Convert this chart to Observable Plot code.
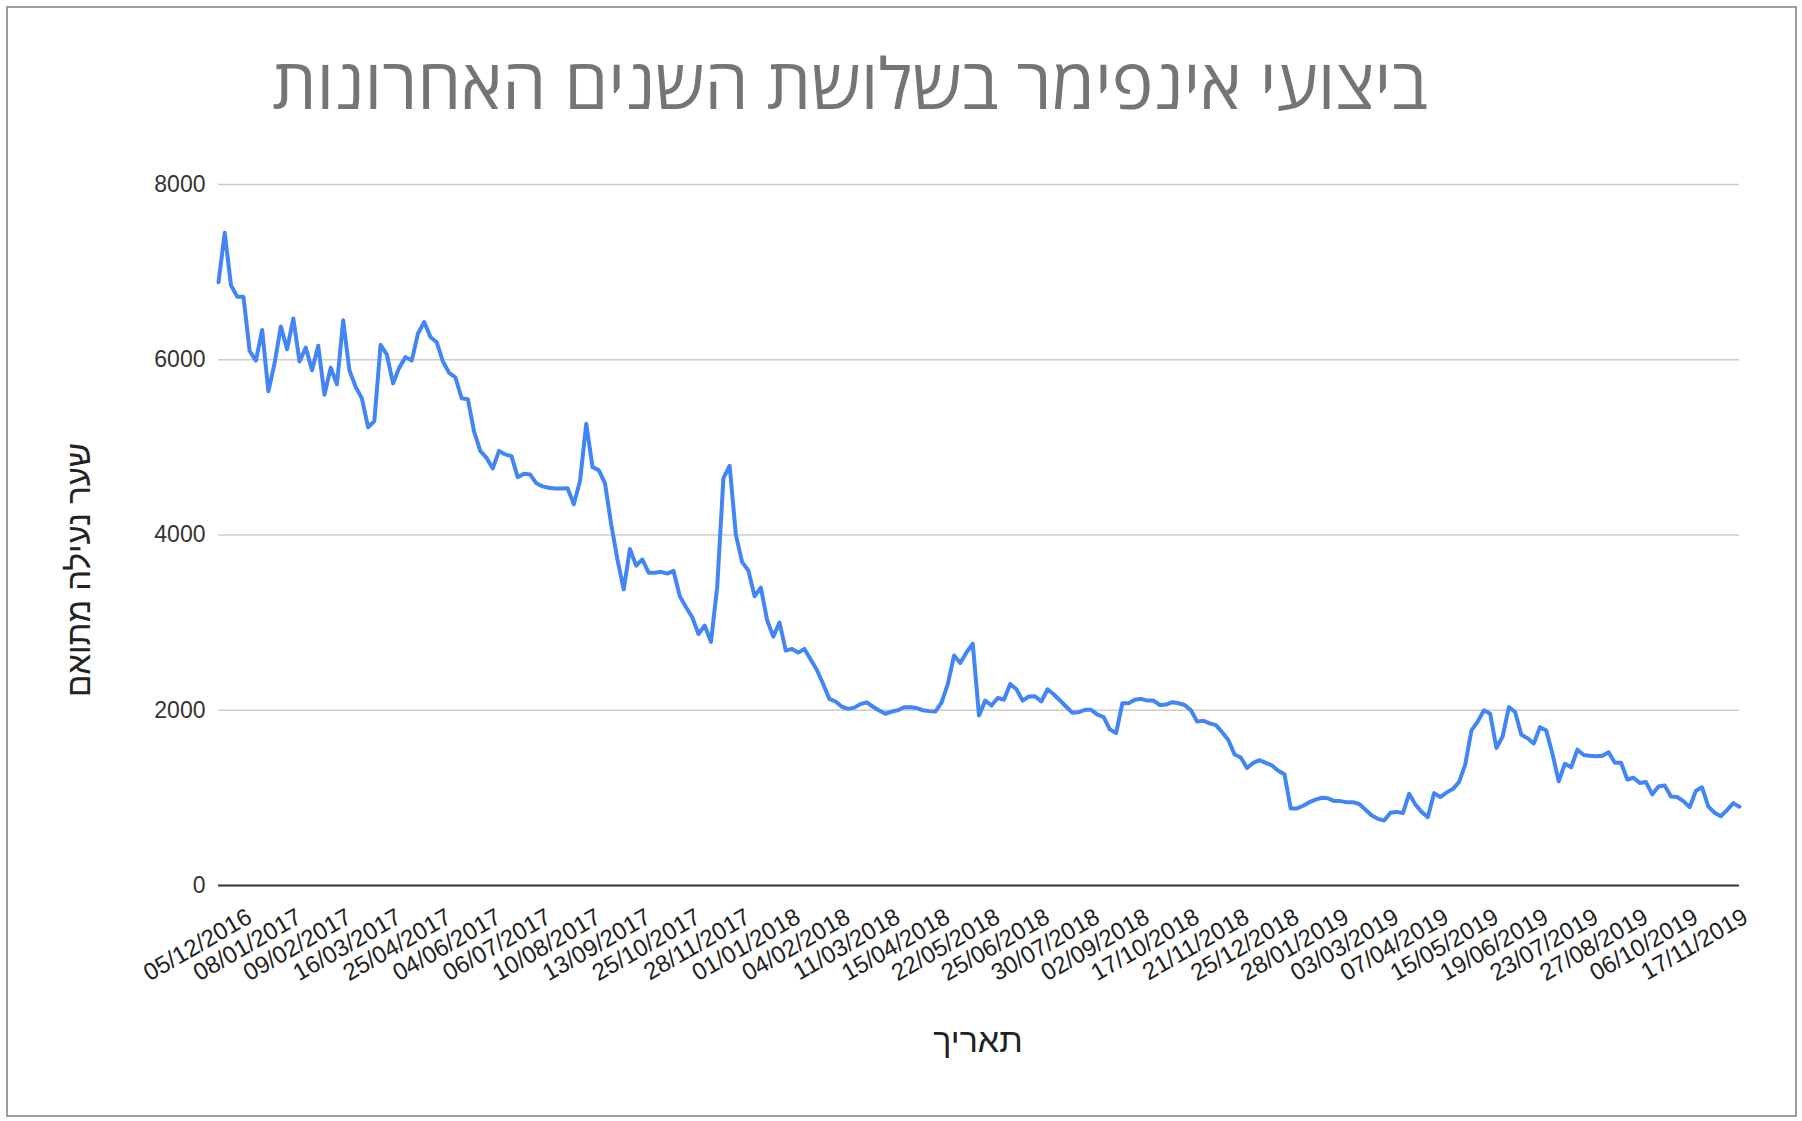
<!DOCTYPE html>
<html lang="he">
<head>
<meta charset="utf-8">
<script src="https://cdn.jsdelivr.net/npm/d3@7"></script>
<script src="https://cdn.jsdelivr.net/npm/@observablehq/plot@0.6"></script>
<style>
  html, body { margin: 0; padding: 0; background: #ffffff; }
  #wrap { position: relative; width: 1802px; height: 1121px; overflow: hidden; background: #fff; }
  #frame { position: absolute; left: 6px; top: 6px; width: 1787px; height: 1107px; border: 2px solid #9e9e9e; }
  #chart { position: absolute; left: 0; top: 0; }
  .txt { position: absolute; white-space: nowrap; line-height: 1; direction: rtl; }
  #title { left: 850px; top: 47px; transform: translateX(-50%); font-family: "Open Sans", "Liberation Sans", Arial, sans-serif; font-size: 70px; color: #757575; }
  #ytitle { left: 78px; top: 570px; transform: translate(-50%, -50%) rotate(-90deg); font-family: "Liberation Sans", Arial, sans-serif; font-size: 33px; color: #222; }
  #xtitle { left: 978px; top: 1023px; transform: translateX(-50%); font-family: "Liberation Sans", Arial, sans-serif; font-size: 34px; color: #222; }
</style>
</head>
<body>
<div id="wrap">
  <div id="frame"></div>
  <div id="chart"></div>
  <div class="txt" id="title">ביצועי אינפימר בשלושת השנים האחרונות</div>
  <div class="txt" id="ytitle">שער נעילה מתואם</div>
  <div class="txt" id="xtitle">תאריך</div>
</div>
<script>
// Adjusted close values, one value every few trading days
const closes = [
  6885, 7450, 6850, 6720, 6720, 6100, 5990, 6340, 5640, 5960,
  6380, 6120, 6470, 5980, 6140, 5880, 6160, 5600, 5910, 5720,
  6450, 5880, 5690, 5560, 5230, 5300, 6170, 6060, 5730, 5910,
  6030, 5990, 6300, 6430, 6260, 6200, 5980, 5850, 5800, 5560,
  5550, 5180, 4960, 4880, 4760, 4960, 4920, 4900, 4660, 4700,
  4690, 4590, 4555, 4540, 4530, 4530, 4534, 4350, 4620, 5270,
  4775, 4740, 4590, 4120, 3720, 3380, 3840, 3650, 3720, 3570,
  3570, 3580, 3560, 3590, 3300, 3176, 3062, 2870, 2967, 2780,
  3405, 4650, 4790, 4000, 3690, 3595, 3300, 3400, 3030, 2840,
  3000, 2680, 2700, 2660, 2700, 2580, 2460, 2300, 2130, 2100,
  2040, 2016, 2030, 2070, 2090, 2040, 1997, 1960, 1985, 2000,
  2035, 2035, 2025, 2000, 1990, 1985, 2090, 2300, 2625, 2540,
  2660, 2760, 1940, 2110, 2054, 2140, 2120, 2300, 2240, 2110,
  2157, 2160, 2100, 2240, 2180, 2111, 2040, 1970, 1978, 2005,
  2005, 1950, 1921, 1780, 1740, 2080, 2080, 2120, 2130, 2110,
  2110, 2060, 2065, 2092, 2080, 2060, 2000, 1870, 1880, 1850,
  1830, 1750, 1660, 1495, 1460, 1340, 1400, 1430, 1400, 1370,
  1310, 1270, 880, 880, 910, 951, 980, 1001, 995, 963,
  963, 951, 951, 930, 864, 800, 761, 742, 830, 840,
  826, 1046, 925, 840, 780, 1054, 1010, 1060, 1100, 1180,
  1380, 1770, 1870, 2000, 1960, 1570, 1700, 2035, 1980, 1720,
  1680, 1620, 1807, 1770, 1500, 1190, 1390, 1350, 1550, 1490,
  1480, 1475, 1480, 1520, 1400, 1400, 1210, 1230, 1170, 1180,
  1040, 1130, 1141, 1016, 1010, 963, 894, 1080, 1120, 900,
  830, 790, 860, 940, 900
];

// Category labels shown on the date axis (every 8th sample)
const tickLabels = [
  "05/12/2016", "08/01/2017", "09/02/2017", "16/03/2017", "25/04/2017",
  "04/06/2017", "06/07/2017", "10/08/2017", "13/09/2017", "25/10/2017",
  "28/11/2017", "01/01/2018", "04/02/2018", "11/03/2018", "15/04/2018",
  "22/05/2018", "25/06/2018", "30/07/2018", "02/09/2018", "17/10/2018",
  "21/11/2018", "25/12/2018", "28/01/2019", "03/03/2019", "07/04/2019",
  "15/05/2019", "19/06/2019", "23/07/2019", "27/08/2019", "06/10/2019",
  "17/11/2019"
];
const tickStep = 8;
const yTicks = [0, 2000, 4000, 6000, 8000];

const data = closes.map((v, i) => ({i, v}));
const ticks = tickLabels.map((t, k) => ({i: k * tickStep, t}));

const chart = Plot.plot({
  width: 1802,
  height: 1121,
  marginLeft: 218,
  marginRight: 63,
  marginTop: 184,
  marginBottom: 236,
  style: {
    fontFamily: "'Liberation Sans', Arial, sans-serif",
    fontSize: "23px",
    color: "#333",
    background: "transparent",
    overflow: "visible"
  },
  x: {domain: [0, closes.length - 1], axis: null},
  y: {domain: [0, 8000], axis: null},
  marks: [
    Plot.ruleY(yTicks.filter(d => d > 0), {stroke: "#cccccc", strokeWidth: 1.5}),
    Plot.axisY({ticks: yTicks, tickSize: 0, tickPadding: 13, tickFormat: d => String(d), fontSize: 23, label: null}),
    Plot.ruleY([0], {stroke: "#333333", strokeWidth: 2}),
    Plot.line(data, {x: "i", y: "v", stroke: "#4285f4", strokeWidth: 4, strokeLinejoin: "round", strokeLinecap: "round"}),
    Plot.text(ticks, {x: "i", text: "t", frameAnchor: "bottom", rotate: -30, textAnchor: "end", lineAnchor: "bottom", dx: 35, dy: 36, fontSize: 24, fill: "#222"})
  ]
});
document.getElementById("chart").appendChild(chart);
</script>
</body>
</html>
